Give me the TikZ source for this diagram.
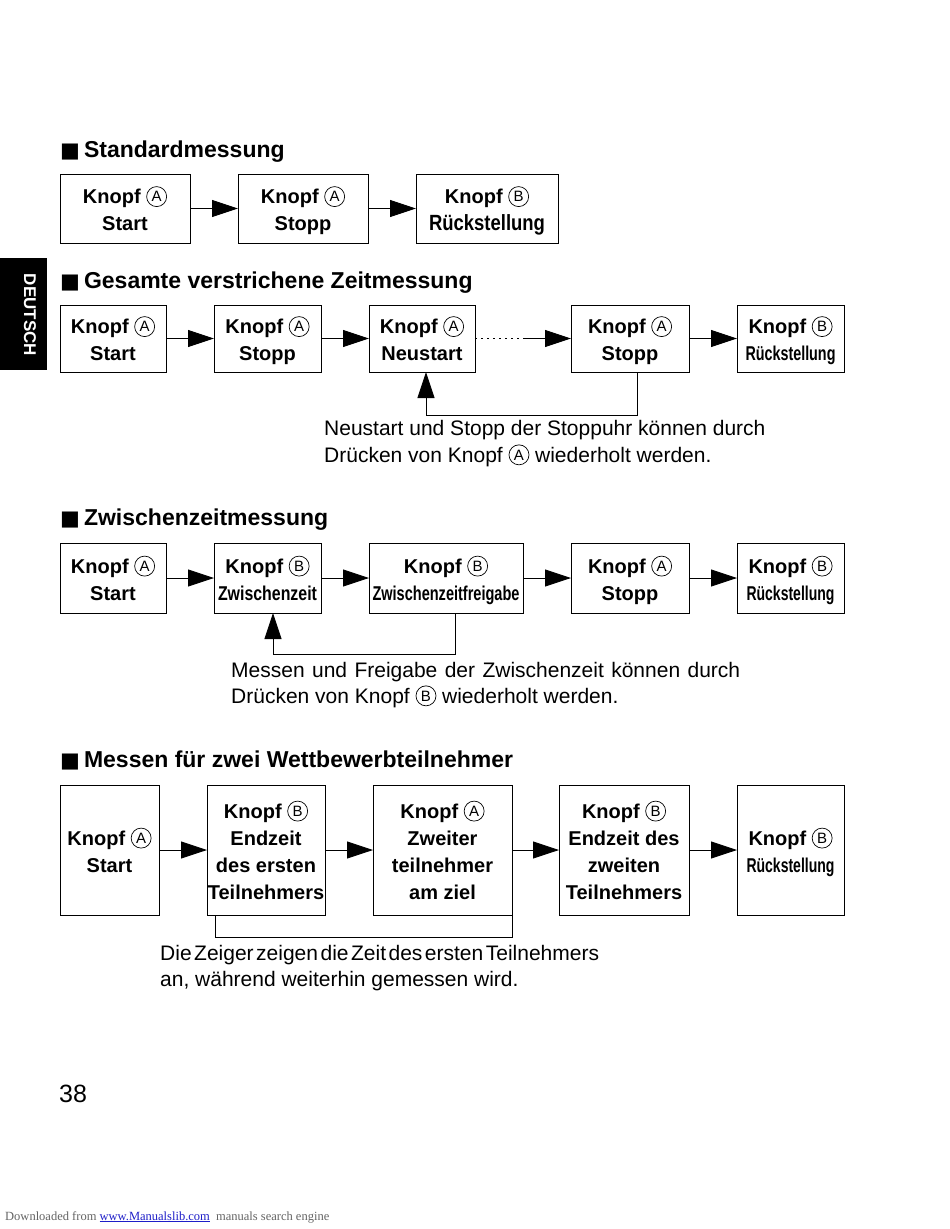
\documentclass[tikz,border=0pt]{standalone}
\usepackage{fontspec}
\usepackage{graphicx}
\setmainfont{Liberation Sans}
\newfontfamily\symfont{DejaVu Sans}
\newfontfamily\narrowfont{Liberation Sans}[FakeStretch=0.8]
\newfontfamily\footfont{Liberation Serif}
\usetikzlibrary{arrows.meta}
\definecolor{footgray}{RGB}{100,100,100}
\definecolor{linkblue}{RGB}{30,30,200}
\tikzset{
	kbox/.style={draw, line width=0.9pt, inner sep=0pt, outer sep=0pt, align=center, font=\fontsize{20}{27}\selectfont\bfseries},
	btncirc/.style={circle, draw, line width=0.7pt, minimum size=20pt, inner sep=0pt, font=\fontsize{15}{15}\selectfont\mdseries},
	arr/.style={-{Triangle[length=26pt,width=17pt]}, line width=0.9pt},
	head/.style={anchor=base west, inner sep=0pt, font=\fontsize{23}{27}\selectfont\bfseries},
	note/.style={anchor=base west, inner sep=0pt, font=\fontsize{21}{26}\selectfont},
}
\newcommand{\btn}[1]{\tikz[baseline={([yshift=-2pt]b.base)}]\node[btncirc](b){#1};}
\newcommand{\btnA}{\btn{A}}
\newcommand{\btnB}{\btn{B}}
% Knopf-Zeile plus weitere Zeilen, mit festen Streben fuer gleiche Lage
\newcommand{\knopf}[2]{\rule{0pt}{22.5pt}Knopf \btn{#1}\\#2\rule[-5pt]{0pt}{5pt}}
\newcommand{\sqbul}{{\symfont\mdseries\fontsize{21}{21}\selectfont ■}\hspace{4pt}}
\newcommand{\narr}[2]{\resizebox{#1}{\height}{\narrowfont #2}}
\begin{document}
\begin{tikzpicture}[x=1pt,y=-1pt]
		\useasboundingbox (0,0) rectangle (950,1229);
		
		% Sprachreiter
		\node[fill=black, minimum width=47, minimum height=112, inner sep=0pt, anchor=north west] (tab) at (0,258) {};
		\node[rotate=-90, text=white, font=\fontsize{17}{20}\selectfont\bfseries] (tabtxt) at (30,315) {DEUTSCH};
		
		% Standardmessung
		\node[head] (hstd) at (60,157) {\sqbul Standardmessung};
		\node[kbox, minimum width=130, minimum height=69] (std1) at (125,208.5) {\knopf{A}{Start}};
		\node[kbox, minimum width=130, minimum height=69] (std2) at (303,208.5) {\knopf{A}{Stopp}};
		\node[kbox, minimum width=142, minimum height=69] (std3) at (487,208.5) {\knopf{B}{\narr{116pt}{\fontsize{22}{27}\selectfont Rückstellung}}};
		
		\draw[arr] (std1)--(std2);
		\draw[arr] (std2)--(std3);
		
		% Gesamte verstrichene Zeitmessung
		\node[head] (hges) at (60,288) {\sqbul Gesamte verstrichene Zeitmessung};
		\node[kbox, minimum width=106, minimum height=67] (ges1) at (113,338.5) {\knopf{A}{Start}};
		\node[kbox, minimum width=107, minimum height=67] (ges2) at (267.5,338.5) {\knopf{A}{Stopp}};
		\node[kbox, minimum width=106, minimum height=67] (ges3) at (422,338.5) {\knopf{A}{Neustart}};
		\node[kbox, minimum width=118, minimum height=67] (ges4) at (630,338.5) {\knopf{A}{Stopp}};
		\node[kbox, minimum width=107, minimum height=67] (ges5) at (790.5,338.5) {\knopf{B}{\narr{90pt}{Rückstellung}}};
		\coordinate (dots) at (519,338.5);
		\coordinate (dotsend) at (523,338.5);
		\coordinate (fbges) at (426,415);
		
		\draw[arr] (ges1)--(ges2);
		\draw[arr] (ges2)--(ges3);
		\draw[line width=1.6pt, dash pattern=on 1.6pt off 4.4pt] (ges3)--(dots);
		\draw[arr] (dotsend)--(ges4);
		\draw[arr] (ges4)--(ges5);
		\draw[arr] ([xshift=7pt]ges4.south) |- (fbges) -- (fbges |- ges3.south);
		
		\node[note] (nges1) at (324,435) {Neustart und Stopp der Stoppuhr können durch};
		\node[note] (nges2) at (324,462) {Drücken von Knopf \btnA\ wiederholt werden.};
		
		% Zwischenzeitmessung
		\node[head] (hzw) at (60,525) {\sqbul Zwischenzeitmessung};
		\node[kbox, minimum width=106, minimum height=70] (zw1) at (113,578) {\knopf{A}{Start}};
		\node[kbox, minimum width=107, minimum height=70] (zw2) at (267.5,578) {\knopf{B}{\narr{99pt}{Zwischenzeit}}};
		\node[kbox, minimum width=154, minimum height=70] (zw3) at (446,578) {\knopf{B}{\narr{147pt}{Zwischenzeitfreigabe}}};
		\node[kbox, minimum width=118, minimum height=70] (zw4) at (630,578) {\knopf{A}{Stopp}};
		\node[kbox, minimum width=107, minimum height=70] (zw5) at (790.5,578) {\knopf{B}{\narr{88pt}{Rückstellung}}};
		\coordinate (fbzw) at (273,654);
		
		\draw[arr] (zw1)--(zw2);
		\draw[arr] (zw2)--(zw3);
		\draw[arr] (zw3)--(zw4);
		\draw[arr] (zw4)--(zw5);
		\draw[arr] ([xshift=9pt]zw3.south) |- (fbzw) -- (fbzw |- zw2.south);
		
		\node[note] (nzw1) at (231,677) {\makebox[509pt][s]{Messen und Freigabe der Zwischenzeit können durch}};
		\node[note] (nzw2) at (231,703) {Drücken von Knopf \btnB\ wiederholt werden.};
		
		% Messen fuer zwei Wettbewerbteilnehmer
		\node[head] (hwb) at (60,767) {\sqbul Messen für zwei Wettbewerbteilnehmer};
		\node[kbox, minimum width=99, minimum height=130] (wb1) at (109.5,850) {\knopf{A}{Start}};
		\node[kbox, minimum width=118, minimum height=130] (wb2) at (266,850) {\knopf{B}{Endzeit\\des ersten\\Teilnehmers}};
		\node[kbox, minimum width=139, minimum height=130] (wb3) at (442.5,850) {\knopf{A}{Zweiter\\teilnehmer\\am ziel}};
		\node[kbox, minimum width=130, minimum height=130] (wb4) at (624,850) {\knopf{B}{Endzeit des\\zweiten\\Teilnehmers}};
		\node[kbox, minimum width=107, minimum height=130] (wb5) at (790.5,850) {\knopf{B}{\narr{88pt}{Rückstellung}}};
		\coordinate (brwb) at (512,937);
		
		\draw[arr] (wb1)--(wb2);
		\draw[arr] (wb2)--(wb3);
		\draw[arr] (wb3)--(wb4);
		\draw[arr] (wb4)--(wb5);
		\draw[line width=0.9pt] ([xshift=8pt]wb2.south west) |- (brwb) -- (wb3.south east);
		
		\node[note] (nwb1) at (160,960) {\spaceskip=2.5pt Die Zeiger zeigen die Zeit des ersten Teilnehmers};
		\node[note] (nwb2) at (160,986) {an, während weiterhin gemessen wird.};
		
		% Seitenfuss
		\node[anchor=base west, inner sep=0pt, font=\fontsize{25}{30}\selectfont] (pnum) at (59,1102) {38};
		\node[anchor=base west, inner sep=0pt, font=\footfont\fontsize{12.5}{15}\selectfont, text=footgray] (foot) at (5,1220) {Downloaded from \textcolor{linkblue}{\underline{www.Manualslib.com}}\ \ manuals search engine};
	\end{tikzpicture}
\end{document}
